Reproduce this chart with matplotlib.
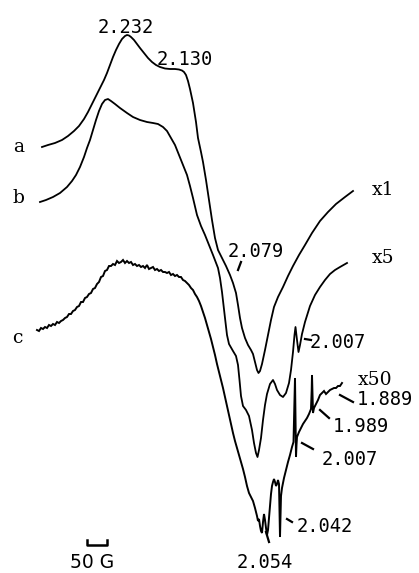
import matplotlib
matplotlib.use("Agg")
import matplotlib.pyplot as plt

# ---- spectra: field position (arb. units, 2.5 G per unit) vs. signal depth ----
a_field = [42, 48, 55, 62, 68, 74, 79, 84, 88, 92,
           96, 100, 104, 107, 110, 113, 116, 119, 122, 125,
           127, 129, 131, 134, 137, 140, 144, 148, 152, 156,
           160, 165, 170, 175, 179, 182, 184, 186, 188, 190,
           193, 196, 198, 201, 203, 206, 209, 212, 215, 218,
           222, 226, 230, 233, 236, 238, 240, 242, 245, 248,
           251, 253, 255, 257, 258.5, 260, 262, 265, 268, 271,
           274, 278, 283, 288, 293, 299, 305, 312, 320, 328,
           336, 345, 353]
a_sig = [147, 145, 143, 140, 136, 131, 126, 119, 112, 104,
         96, 88, 80, 73, 65, 57, 50, 44, 39, 36,
         35, 35.5, 37, 40, 44, 48, 53, 58, 62, 65,
         67, 68.5, 69, 69, 69.5, 70.5, 72, 75, 81, 89,
         103, 122, 138, 152, 162, 180, 200, 220, 238, 250,
         258, 266, 275, 283, 293, 305, 318, 328, 338, 345,
         350, 354, 362, 370, 373, 371, 364, 350, 335, 320,
         307, 297, 287, 276, 266, 255, 245, 233, 221, 212,
         204, 197, 191]

b_field = [40, 46, 53, 60, 67, 72, 76, 80, 84, 87,
           90, 93, 96, 99, 102, 105, 108, 111, 115, 120,
           127, 133, 140, 147, 153, 158, 163, 167, 171, 175,
           179, 183, 187, 190, 193, 197, 201, 205, 209, 213,
           218, 220, 222, 225, 227, 229, 233, 236, 238, 239.5,
           241, 243, 246, 249, 252, 254, 256, 257.5, 259, 261,
           263, 265, 267, 270, 273, 275, 277, 280, 283, 286,
           289, 291, 293, 294.5, 295.5, 297, 298.5, 300, 302, 305,
           310, 315, 320, 325, 330, 335, 340, 347]
b_sig = [202, 200, 197, 193, 187, 181, 175, 167, 157, 148,
         140, 130, 120, 111, 104, 100, 99, 101, 104, 108,
         113, 117, 120, 122, 123, 124, 127, 131, 138, 145,
         155, 165, 175, 186, 198, 215, 226, 235, 245, 255,
         268, 278, 292, 318, 335, 344, 351, 356, 365, 380,
         396, 406, 410, 416, 430, 443, 453, 457, 450, 438,
         420, 405, 394, 384, 380, 384, 390, 395, 397, 393,
         383, 370, 352, 335, 327, 340, 352, 345, 334, 322,
         306, 295, 287, 280, 274, 270, 267, 263]

# trace c (x50): noisy low-field wing
c_wing_field = [37, 39, 41, 43, 45, 47, 49, 51, 53, 55,
                57, 59, 61, 63, 65, 67, 69, 71, 73, 75,
                77, 79, 81, 83, 85, 87, 89, 91, 93, 95,
                97, 99, 101, 103, 105, 107, 109, 111, 113, 115,
                117, 119, 121, 123, 125, 127, 129, 131, 133, 135,
                137, 139, 141, 143, 145, 147, 149, 151, 153, 155,
                157, 159, 161, 163, 165, 167, 169, 171, 173, 175,
                177, 179, 181, 183, 185, 187, 189, 191, 193, 195,
                197, 199]
c_wing_sig = [330, 331, 328, 329, 327, 328, 325, 326, 324, 325,
              322, 323, 321, 320, 318, 317, 314, 314, 311, 310,
              307, 306, 302, 302, 298, 297, 294, 293, 289, 288,
              284, 282, 277, 276, 271, 270, 266, 266, 264, 265,
              261, 263, 262, 260, 263, 261, 263, 262, 265, 264,
              266, 265, 267, 266, 268, 265, 269, 268, 267, 270,
              269, 271, 270, 272, 272, 273, 272, 275, 274, 276,
              275, 277, 277, 280, 281, 283, 285, 288, 290, 294,
              297, 301]

# trace c (x50): main absorption and the sharp radical lines
c_core_field = [201, 203, 205, 207, 209, 211, 213, 215, 217, 219,
                221, 223, 225, 227, 229, 231, 233, 235, 237, 239,
                241, 243, 245, 247, 249, 251, 253, 255, 257, 258,
                259, 260, 261, 262, 263, 264, 265, 266, 267, 268,
                269, 270, 271, 272, 273, 274, 275, 276, 277, 278,
                279, 279.5, 280, 280.5, 281, 282, 284, 286, 288, 290,
                292, 293.5, 294.5, 295, 295.5, 296, 296.5, 297, 299, 301,
                303, 305, 307, 309, 311, 311.7, 312, 312.5, 313, 314,
                316, 318, 320, 322, 324, 326, 328, 330, 332, 334,
                336, 338, 340, 342]
c_core_sig = [306, 312, 318, 325, 332, 339, 347, 355, 364, 372,
              380, 388, 397, 406, 415, 424, 433, 441, 448, 455,
              462, 469, 477, 486, 493, 497, 501, 508, 516, 521,
              519, 526, 531, 533, 522, 514, 520, 528, 535, 530,
              518, 505, 494, 486, 482, 479, 482, 486, 484, 480,
              484, 510, 537, 515, 496, 488, 478, 470, 462, 455,
              447, 442, 400, 378, 420, 457, 445, 437, 432, 428,
              424, 421, 418, 414, 409, 390, 375, 395, 413, 408,
              404, 400, 395, 393, 391, 394, 392, 390, 389, 388,
              388, 386, 386, 383]

# ---- annotations: label text, left x, baseline depth ----
g_labels = ["2.232", "2.130", "2.079", "2.007", "1.889", "1.989", "2.007", "2.042", "2.054"]
g_x = [98, 157, 228, 310, 357, 333, 322, 297, 237]
g_y = [33, 65, 257, 348, 405, 432, 465, 532, 568.5]

# short marker strokes pointing at the lines: (x0, y0, x1, y1)
markers = [(238, 270, 241, 262), (305, 339, 311, 340), (340, 395, 353, 402),
           (320, 410, 329, 418), (302, 443, 313, 449), (287, 519, 292, 522),
           (266, 532, 269, 542)]

gain_labels = ["x1", "x5", "x50"]
gain_x = [372, 372, 358]
gain_y = [195, 263, 385]

trace_names = ["a", "b", "c"]
trace_x = [13, 12, 12]
trace_y = [152, 203, 343]

G_PER_UNIT = 2.5
bar_gauss = 50

fig = plt.figure(figsize=(4.19, 5.73), dpi=100)
ax = fig.add_axes([0, 0, 1, 1])
ax.set_xlim(0, 419)
ax.set_ylim(573, 0)
ax.axis("off")

lw = 1.3
for f, s in [(a_field, a_sig), (b_field, b_sig)]:
    ax.plot(f, s, color="black", lw=lw, solid_joinstyle="round")
ax.plot(c_wing_field + c_core_field, c_wing_sig + c_core_sig,
        color="black", lw=1.4, solid_joinstyle="miter")

mono = dict(family="DejaVu Sans Mono", fontsize=13.5, color="black")
serif = dict(family="DejaVu Serif", fontsize=13.5, color="black")

for t, x, y in zip(g_labels, g_x, g_y):
    ax.text(x, y, t, ha="left", va="baseline", **mono)
for x0, y0, x1, y1 in markers:
    ax.plot([x0, x1], [y0, y1], color="black", lw=1.6)
for t, x, y in zip(gain_labels, gain_x, gain_y):
    ax.text(x, y, t, ha="left", va="baseline", **serif)
for t, x, y in zip(trace_names, trace_x, trace_y):
    ax.text(x, y, t, ha="left", va="baseline", **serif)

# field scale bar
bar_len = bar_gauss / G_PER_UNIT
bx0 = 87
ax.plot([bx0, bx0, bx0 + bar_len, bx0 + bar_len], [540, 544.5, 544.5, 540],
        color="black", lw=1.8)
ax.text(70, 568.5, f"{bar_gauss} G", ha="left", va="baseline",
        family="DejaVu Sans", fontsize=13.5)

fig.savefig("out.png", dpi=100, facecolor="white")
